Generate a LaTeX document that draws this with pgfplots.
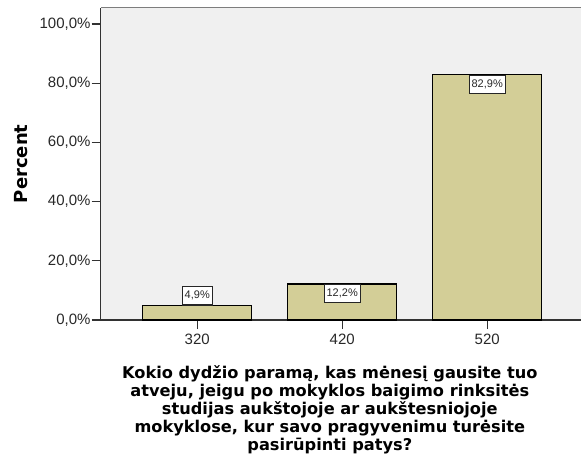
\documentclass[border=0pt]{standalone}
\usepackage{fontspec}
\setmainfont{Liberation Sans}
\newfontfamily\titlefont{DejaVu Sans}
\usepackage{pgfplots}
\pgfplotsset{compat=1.18}
\definecolor{bgcol}{RGB}{240,240,240}
\definecolor{barcol}{RGB}{211,206,151}
\definecolor{axcol}{RGB}{50,50,50}
\definecolor{topcol}{RGB}{125,125,125}
\definecolor{txtcol}{RGB}{40,40,40}
\begin{document}
\begin{tikzpicture}
\path[use as bounding box] (-100.7pt,-147pt) rectangle (480.3pt,320pt);
\begin{axis}[
  at={(0,0)}, anchor=south west,
  scale only axis,
  width=480.3pt, height=312.5pt,
  xmin=-0.666, xmax=2.647,
  ymin=0, ymax=105.6,
  axis x line*=bottom, axis y line*=left,
  axis line style={-, line width=1.3pt, draw=axcol},
  axis background/.style={fill=bgcol},
  xtick={0,1,2},
  xticklabels={320,420,520},
  ytick={0,20,40,60,80,100},
  tick align=outside,
  major tick length=9pt,
  tick style={line width=1.2pt, draw=axcol},
  /pgf/number format/assume math mode=true,
  yticklabel={\pgfmathprintnumber[fixed,fixed zerofill,precision=1,use comma]{\tick}\%},
  ticklabel style={font=\fontsize{15}{18}\selectfont, text=txtcol},
  yticklabel style={inner sep=0pt, xshift=-1pt},
  xticklabel style={inner sep=0pt, yshift=-5pt},
  xlabel={Kokio dydžio paramą, kas mėnesį gausite tuo\\atveju, jeigu po mokyklos baigimo rinksitės\\studijas aukštojoje ar aukštesniojoje\\mokyklose, kur savo pragyvenimu turėsite\\pasirūpinti patys?},
  xlabel style={at={(axis description cs:0.477,-0.144)}, anchor=north, inner sep=0pt,
    align=center, font=\titlefont\bfseries\fontsize{16.2}{18}\selectfont},
  ylabel={Percent},
  ylabel style={at={(axis description cs:-0.165,0.5)}, rotate=0, anchor=center, inner sep=0pt,
    font=\titlefont\bfseries\fontsize{18}{20}\selectfont},
  clip=false,
]
\addplot[ybar, bar width=0.752, bar shift=0pt, fill=barcol, draw=black, line width=1.2pt]
  coordinates {(0,4.9) (1,12.2) (2,82.9)};
\addplot[draw=none, mark=none,
  nodes near coords={\pgfmathprintnumber[fixed,fixed zerofill,precision=1,use comma]{\pgfplotspointmeta}\%},
  every node near coord/.append style={anchor=south, fill=white, draw=black!85, line width=1.2pt,
    font=\fontsize{11}{12}\selectfont, text=txtcol, inner xsep=2.5pt, inner ysep=4.5pt}]
  coordinates {(0,4.9)};
\addplot[draw=none, mark=none,
  nodes near coords={\pgfmathprintnumber[fixed,fixed zerofill,precision=1,use comma]{\pgfplotspointmeta}\%},
  every node near coord/.append style={anchor=north, fill=white, draw=black!85, line width=1.2pt,
    font=\fontsize{11}{12}\selectfont, text=txtcol, inner xsep=2.5pt, inner ysep=4.5pt}]
  coordinates {(1,12.2) (2,82.9)};
\draw[topcol, line width=1.5pt] (rel axis cs:0,1) -- (rel axis cs:1,1);
\end{axis}
\end{tikzpicture}
\end{document}
